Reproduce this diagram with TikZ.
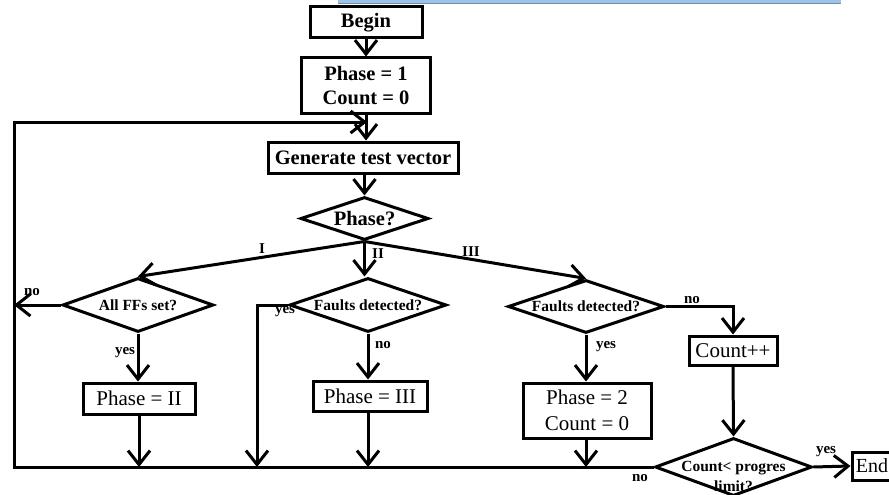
\documentclass[tikz,border=0pt]{standalone}
\usepackage{fontspec}
\setmainfont{Liberation Serif}
\usetikzlibrary{shapes.geometric,arrows.meta}
\begin{document}
\begin{tikzpicture}[x=1pt,y=-1pt, line width=3pt,
  box/.style={draw, rectangle, inner sep=0pt, align=center},
  dia/.style={draw, diamond, aspect=3, inner sep=0pt, align=center},
  big/.style={font=\fontsize{20.5}{24}\selectfont\bfseries},
  reg/.style={font=\fontsize{21}{26}\selectfont},
  sml/.style={font=\fontsize{15.5}{20}\selectfont\bfseries},
  lbl/.style={font=\fontsize{15}{18}\selectfont\bfseries, inner sep=0pt},
  arr/.style={-{Straight Barb[length=14pt,width=22pt]}},
]
\useasboundingbox (0,0) rectangle (889,495);
\clip (0,0) rectangle (889,495);
% blue bar at top
\fill[fill={rgb,255:red,157;green,195;blue,230}, draw=none] (338,0) rectangle (841,3);
\draw[line width=1pt, draw={rgb,255:red,110;green,140;blue,175}] (338,3.2) -- (841,3.2);

% nodes
\node[box, big, minimum width=112pt, minimum height=31pt] (begin) at (366,22.5) {Begin};
\node[box, big, minimum width=129pt, minimum height=55pt] (p1) at (366,85.5) {Phase = 1\\Count = 0};
\node[box, big, minimum width=190pt, minimum height=31pt] (gen) at (363,157.5) {Generate test vector};
\node[dia, big, minimum width=128pt, minimum height=43pt] (phase) at (364.5,218.5) {Phase?};
\node[dia, sml, minimum width=151pt, minimum height=54pt] (allff) at (138,305) {All FFs set?};
\node[dia, sml, minimum width=157pt, minimum height=54pt] (f2) at (368,305) {Faults detected?};
\node[dia, sml, minimum width=156pt, minimum height=53pt] (f3) at (586,306.5) {Faults detected?};
\node[box, reg, minimum width=112pt, minimum height=31pt] (ph2) at (139,398.5) {Phase = II};
\node[box, reg, minimum width=114pt, minimum height=30pt] (ph3) at (370,396) {Phase = III};
\node[box, reg, minimum width=128pt, minimum height=55pt] (ph22) at (587,410.5) {Phase = 2\\Count = 0};
\node[box, reg, minimum width=88pt, minimum height=29pt] (cpp) at (733,350.5) {Count++};
\node[dia, minimum width=157pt, minimum height=58pt] (cnt) at (733.5,467) {};
\node[sml, inner sep=0pt, align=center] (cntt) at (733.5,476) {Count< progres\\limit?};
\node[box, font=\fontsize{20}{24}\selectfont, minimum width=40pt, minimum height=28pt] (endn) at (872,466) {End};

% corner coordinates
\coordinate (tl) at (14,122);
\coordinate (bl) at (14,467);
\coordinate (loopin) at (367,122);

% connectors
\draw[arr] (begin.south) -- (begin.south |- p1.north);
\draw[arr] (p1.south) -- (p1.south |- gen.north);
\draw[arr] (gen.south -| phase.north) -- (phase.north);
\draw[arr] (phase.south) -- (allff.north);
\draw[arr] (phase.south) -- (phase.south |- f2.north);
\draw[arr] (phase.south) -- (f3.north);
\draw[arr] (allff.west) -- (allff.west -| bl);
\draw[arr] (allff.south) -- (allff.south |- ph2.north);
\draw[arr] (ph2.south) -- (ph2.south |- bl);
\draw[arr] (f2.west) -- (257,305) -- (257,467);
\draw[arr] (f2.south) -- (f2.south |- ph3.north);
\draw[arr] (ph3.south -| f2.south) -- (f2.south |- bl);
\draw[arr] (f3.east) -- (f3.east -| cpp.north) -- (cpp.north);
\draw[arr] (f3.south) -- (f3.south |- ph22.north);
\draw[arr] (ph22.south -| f3.south) -- (f3.south |- bl);
\draw[arr] (cpp.south) -- (cnt.north);
\draw[arr] (cnt.east) -- (endn.west);
\draw[arr] (cnt.west) -- (bl) -- (tl) -- (loopin);

% labels
\node[lbl] (lI) at (262,249) {I};
\node[lbl] (lII) at (378,254) {II};
\node[lbl] (lIII) at (471,252) {III};
\node[lbl] (lno1) at (32,292) {no};
\node[lbl] (lyes1) at (125,353) {yes};
\node[lbl] (lyes2) at (285,312) {yes};
\node[lbl] (lno2) at (383,345) {no};
\node[lbl] (lno3) at (692,300) {no};
\node[lbl] (lyes3) at (606,347) {yes};
\node[lbl] (lyes4) at (826,452) {yes};
\node[lbl] (lno4) at (640,478) {no};
\end{tikzpicture}
\end{document}
